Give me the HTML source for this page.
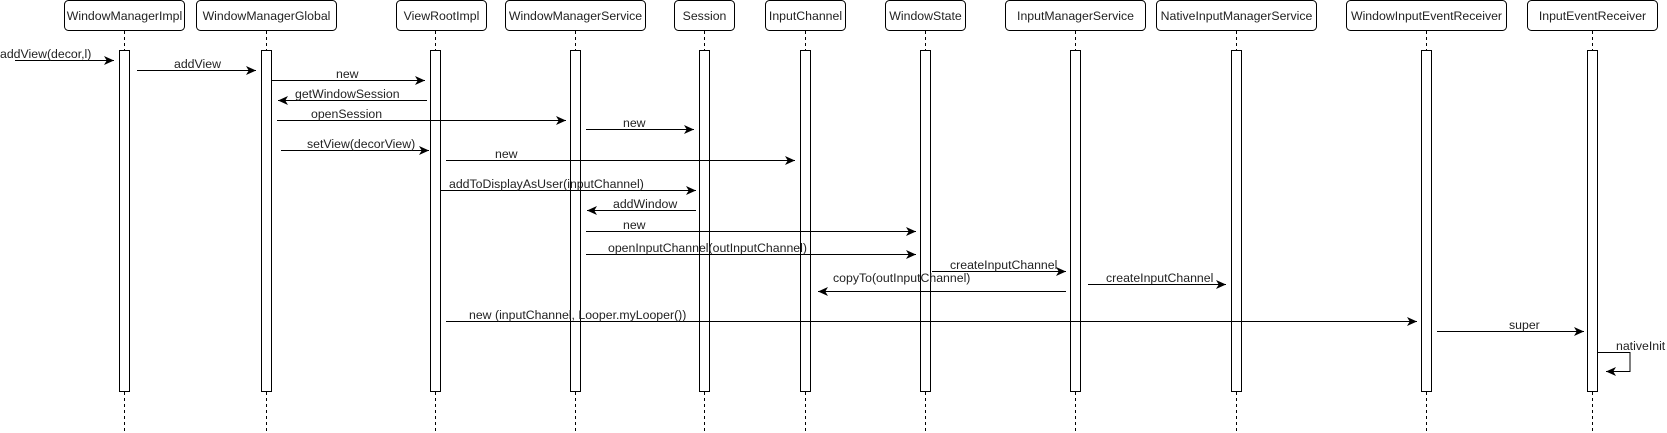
<!DOCTYPE html>
<html><head><meta charset="utf-8"><style>
html,body{margin:0;padding:0;background:#fff;}
svg{display:block}
text{font-family:"Liberation Sans",sans-serif;font-size:12.3px;fill:#222}
</style></head><body>
<svg width="1667" height="433" viewBox="0 0 1667 433" xmlns="http://www.w3.org/2000/svg">
<defs><marker id="a" markerWidth="11" markerHeight="9" refX="10" refY="4.5" orient="auto" markerUnits="userSpaceOnUse"><path d="M0,0 L10,4.5 L0,9 L2.7,4.5 Z" fill="#000"/></marker></defs>
<g fill="#fff" stroke="#000" stroke-width="1">
<rect x="64.5" y="0.5" width="120" height="30" rx="4"/>
<rect x="196.5" y="0.5" width="140" height="30" rx="4"/>
<rect x="396.5" y="0.5" width="90" height="30" rx="4"/>
<rect x="505.5" y="0.5" width="140" height="30" rx="4"/>
<rect x="674.5" y="0.5" width="60" height="30" rx="4"/>
<rect x="765.5" y="0.5" width="80" height="30" rx="4"/>
<rect x="885.5" y="0.5" width="80" height="30" rx="4"/>
<rect x="1005.5" y="0.5" width="140" height="30" rx="4"/>
<rect x="1156.5" y="0.5" width="160" height="30" rx="4"/>
<rect x="1346.5" y="0.5" width="160" height="30" rx="4"/>
<rect x="1527.5" y="0.5" width="130" height="30" rx="4"/>
</g>
<g text-anchor="middle">
<text x="124.5" y="20">WindowManagerImpl</text>
<text x="266.5" y="20">WindowManagerGlobal</text>
<text x="441.5" y="20">ViewRootImpl</text>
<text x="575.5" y="20">WindowManagerService</text>
<text x="704.5" y="20">Session</text>
<text x="805.5" y="20">InputChannel</text>
<text x="925.5" y="20">WindowState</text>
<text x="1075.5" y="20">InputManagerService</text>
<text x="1236.5" y="20">NativeInputManagerService</text>
<text x="1426.5" y="20">WindowInputEventReceiver</text>
<text x="1592.5" y="20">InputEventReceiver</text>
</g>
<g stroke="#000" stroke-dasharray="3,3" stroke-width="1">
<path d="M124.5 31V50M124.5 392V433M266.5 31V50M266.5 392V433M435.5 31V50M435.5 392V433M575.5 31V50M575.5 392V433M704.5 31V50M704.5 392V433M805.5 31V50M805.5 392V433M925.5 31V50M925.5 392V433M1075.5 31V50M1075.5 392V433M1236.5 31V50M1236.5 392V433M1426.5 31V50M1426.5 392V433M1592.5 31V50M1592.5 392V433"/>
</g>
<g fill="#fff" stroke="#000">
<rect x="119.5" y="50.5" width="10" height="341"/>
<rect x="261.5" y="50.5" width="10" height="341"/>
<rect x="430.5" y="50.5" width="10" height="341"/>
<rect x="570.5" y="50.5" width="10" height="341"/>
<rect x="699.5" y="50.5" width="10" height="341"/>
<rect x="800.5" y="50.5" width="10" height="341"/>
<rect x="920.5" y="50.5" width="10" height="341"/>
<rect x="1070.5" y="50.5" width="10" height="341"/>
<rect x="1231.5" y="50.5" width="10" height="341"/>
<rect x="1421.5" y="50.5" width="10" height="341"/>
<rect x="1587.5" y="50.5" width="10" height="341"/>
</g>
<g stroke="#000" stroke-width="1" fill="none" marker-end="url(#a)">
<path d="M15 60.5H114"/>
<path d="M137 70.5H256"/>
<path d="M272 80.5H425"/>
<path d="M427 100.5H278"/>
<path d="M277 120.5H566"/>
<path d="M586 129.5H694"/>
<path d="M281 150.5H429"/>
<path d="M446 160.5H795"/>
<path d="M441 190.5H696"/>
<path d="M696 210.5H587"/>
<path d="M586 231.5H916"/>
<path d="M586 254.5H916"/>
<path d="M932 271.5H1066"/>
<path d="M1066 291.5H818"/>
<path d="M1088 284.5H1226"/>
<path d="M446 321.5H1417"/>
<path d="M1437 331.5H1584"/>
<path d="M1598 352.5H1630V371.5H1606"/>
</g>
<text x="0" y="58">addView(decor,l)</text>
<text x="174" y="68">addView</text>
<text x="336" y="78">new</text>
<text x="295" y="98">getWindowSession</text>
<text x="311" y="118">openSession</text>
<text x="623" y="127">new</text>
<text x="307" y="148">setView(decorView)</text>
<text x="495" y="158">new</text>
<text x="449" y="188">addToDisplayAsUser(inputChannel)</text>
<text x="613" y="208">addWindow</text>
<text x="623" y="229">new</text>
<text x="608" y="252">openInputChannel(outInputChannel)</text>
<text x="950" y="269">createInputChannel</text>
<text x="833" y="282">copyTo(outInputChannel)</text>
<text x="1106" y="282">createInputChannel</text>
<text x="469" y="319">new (inputChannel, Looper.myLooper())</text>
<text x="1509" y="329">super</text>
<text x="1616" y="350">nativeInit</text>
</svg>
</body></html>
